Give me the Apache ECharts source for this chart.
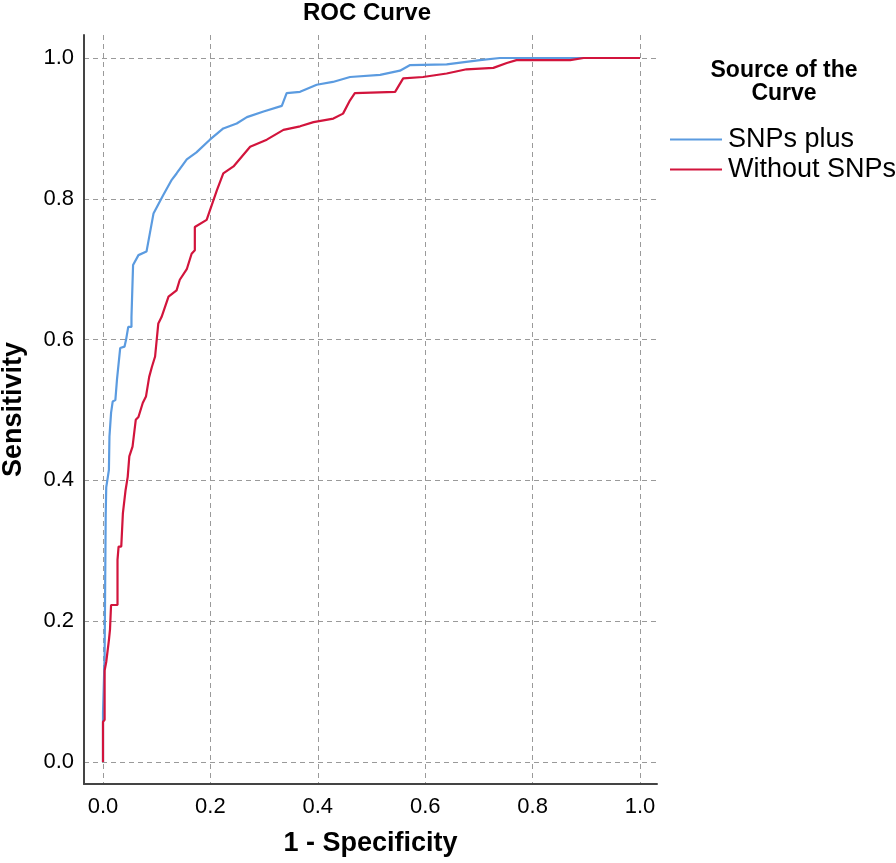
<!DOCTYPE html>
<html>
<head>
<meta charset="utf-8">
<script src="https://cdn.jsdelivr.net/npm/echarts@6/dist/echarts.min.js"></script>
<style>
  html, body { margin: 0; padding: 0; background: #fff; }
  #roc-chart { width: 896px; height: 863px; }
</style>
</head>
<body>
<div id="roc-chart"></div>
<script>
// ROC points: [1 - specificity, sensitivity]
const snpsPlus = [
    [0, 0], [0, 0.07], [0.003, 0.15], [0.004, 0.25], [0.005, 0.35], [0.006, 0.39],
    [0.009, 0.405], [0.011, 0.415], [0.012, 0.462], [0.015, 0.496], [0.018, 0.512],
    [0.023, 0.514], [0.026, 0.543], [0.032, 0.588], [0.040, 0.590], [0.043, 0.600],
    [0.047, 0.618], [0.053, 0.618], [0.053, 0.632], [0.056, 0.632], [0.056, 0.706],
    [0.066, 0.720], [0.081, 0.725], [0.094, 0.779], [0.112, 0.805], [0.128, 0.827],
    [0.137, 0.836], [0.156, 0.856], [0.174, 0.866], [0.199, 0.884], [0.224, 0.900],
    [0.249, 0.907], [0.268, 0.916], [0.299, 0.924], [0.333, 0.932], [0.342, 0.950],
    [0.367, 0.952], [0.398, 0.962], [0.428, 0.966], [0.460, 0.973], [0.516, 0.976],
    [0.553, 0.982], [0.572, 0.990], [0.640, 0.991], [0.702, 0.997], [0.739, 1.0],
    [1, 1]
];

const withoutSnps = [
    [0, 0], [0, 0.057], [0.003, 0.06], [0.003, 0.13], [0.006, 0.142], [0.011, 0.173],
    [0.013, 0.188], [0.015, 0.223], [0.027, 0.223], [0.027, 0.287], [0.029, 0.306],
    [0.034, 0.306], [0.037, 0.353], [0.042, 0.386], [0.046, 0.405], [0.049, 0.434],
    [0.055, 0.448], [0.061, 0.486], [0.066, 0.490], [0.074, 0.510], [0.080, 0.519],
    [0.086, 0.547], [0.091, 0.561], [0.097, 0.576], [0.103, 0.623], [0.109, 0.632],
    [0.122, 0.661], [0.137, 0.670], [0.143, 0.685], [0.156, 0.700], [0.165, 0.722],
    [0.171, 0.727], [0.171, 0.760], [0.193, 0.770], [0.212, 0.812], [0.224, 0.836],
    [0.243, 0.846], [0.274, 0.874], [0.305, 0.884], [0.336, 0.898], [0.367, 0.903],
    [0.392, 0.909], [0.429, 0.914], [0.447, 0.921], [0.460, 0.940], [0.469, 0.950],
    [0.544, 0.952], [0.559, 0.971], [0.596, 0.973], [0.640, 0.978], [0.677, 0.984],
    [0.727, 0.986], [0.752, 0.993], [0.770, 0.997], [0.870, 0.997], [0.895, 1.0],
    [1, 1]
];

const tickValues = [0, 0.2, 0.4, 0.6, 0.8, 1.0];
const seriesNames = ['SNPs plus', 'Without SNPs'];

const font = "'Liberation Sans', Arial, sans-serif";

var rocChart = echarts.init(document.getElementById('roc-chart'));

// axis ranges leave the small margin SPSS puts around 0..1
option = {
    animation: false,
    backgroundColor: '#ffffff',
    color: ['#5b9be0', '#d2143c'],
    title: [{
        text: 'ROC Curve',
        left: 367,
        top: 1,
        padding: 0,
        textAlign: 'center',
        textStyle: { fontFamily: font, fontSize: 24, fontWeight: 'bold', color: '#000' }
    }, {
        text: 'Source of the\nCurve',
        left: 784,
        top: 59,
        padding: 0,
        textAlign: 'center',
        textStyle: { fontFamily: font, fontSize: 23, fontWeight: 'bold', color: '#000', lineHeight: 23 }
    }],
    legend: {
        data: seriesNames,
        orient: 'vertical',
        left: 670,
        top: 126,
        padding: 0,
        icon: 'rect',
        itemWidth: 52,
        itemHeight: 2,
        itemGap: 3,
        textStyle: { fontFamily: font, fontSize: 27, color: '#000', padding: [0, 0, 0, 1] }
    },
    grid: { left: 84, right: 239, top: 35, bottom: 79, containLabel: false, outerBoundsMode: 'none' },
    xAxis: {
        type: 'value',
        min: -0.0354,
        max: 1.0317,
        name: '1 - Specificity',
        nameLocation: 'middle',
        nameGap: 46,
        nameMoveOverlap: false,
        nameTextStyle: { fontFamily: font, fontSize: 27, fontWeight: 'bold', color: '#000' },
        axisLine: { show: true, onZero: false, lineStyle: { color: '#444', width: 2 } },
        axisTick: { show: false, customValues: tickValues },
        axisLabel: {
            customValues: tickValues,
            margin: 12,
            fontFamily: font,
            fontSize: 22,
            color: '#000',
            formatter: function(v) { return v.toFixed(1); }
        },
        splitLine: { show: true, lineStyle: { color: '#9a9a9a', type: [5, 4], width: 1 } }
    },
    yAxis: {
        type: 'value',
        min: -0.0313,
        max: 1.0327,
        name: 'Sensitivity',
        nameLocation: 'middle',
        nameRotate: 90,
        nameGap: 57,
        nameMoveOverlap: false,
        nameTextStyle: { fontFamily: font, fontSize: 27, fontWeight: 'bold', color: '#000' },
        axisLine: { show: true, onZero: false, lineStyle: { color: '#444', width: 2 } },
        axisTick: { show: false, customValues: tickValues },
        axisLabel: {
            customValues: tickValues,
            margin: 10,
            fontFamily: font,
            fontSize: 22,
            color: '#000',
            formatter: function(v) { return v.toFixed(1); }
        },
        splitLine: { show: true, lineStyle: { color: '#9a9a9a', type: [5, 4], width: 1 } }
    },
    series: [{
        name: seriesNames[0],
        type: 'line',
        data: snpsPlus,
        symbol: 'none',
        lineStyle: { width: 2.2 }
    }, {
        name: seriesNames[1],
        type: 'line',
        data: withoutSnps,
        symbol: 'none',
        lineStyle: { width: 2.2 }
    }]
};

rocChart.setOption(option);
</script>
</body>
</html>
